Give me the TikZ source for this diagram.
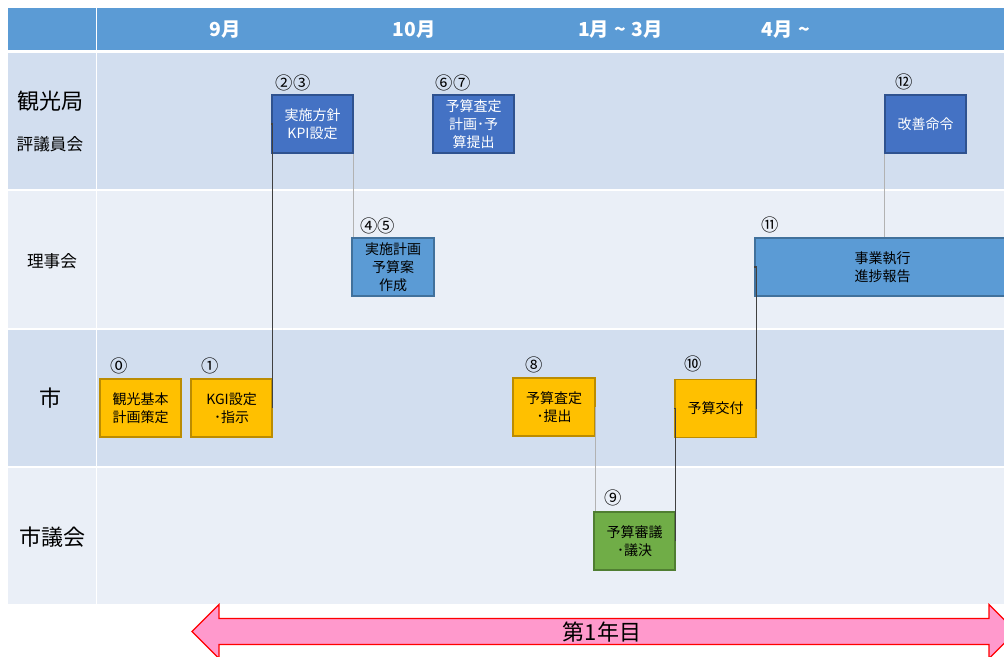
\documentclass[tikz,border=0pt]{standalone}
\usepackage{fontspec}
\setmainfont{Noto Sans CJK JP}
\definecolor{hdr}{HTML}{5B9BD5}
\definecolor{rowA}{HTML}{D2DEEF}
\definecolor{rowB}{HTML}{EAEFF7}
\definecolor{dblue}{HTML}{4472C4}
\definecolor{dblueb}{HTML}{2F528F}
\definecolor{lblue}{HTML}{5B9BD5}
\definecolor{lblueb}{HTML}{41719C}
\definecolor{yel}{HTML}{FFC000}
\definecolor{yelb}{HTML}{BC8C00}
\definecolor{grn}{HTML}{70AD47}
\definecolor{grnb}{HTML}{507E32}
\definecolor{pinkf}{HTML}{FF99CC}
\definecolor{arrowb}{HTML}{FF0000}
\begin{document}
\begin{tikzpicture}[x=0.75pt,y=-0.75pt,
 box/.style={rectangle, draw, line width=0.9pt, inner sep=0pt, minimum width=60.75pt, minimum height=43.5pt, align=center, font=\fontsize{10.5}{13.5}\selectfont},
 dbox/.style={box, fill=dblue, draw=dblueb, text=white},
 lbox/.style={box, fill=lblue, draw=lblueb, text=black},
 ybox/.style={box, fill=yel, draw=yelb, text=black},
 gbox/.style={box, fill=grn, draw=grnb, text=black},
 num/.style={font=\fontsize{13}{15}\selectfont, inner sep=0pt},
 hdrtext/.style={text=white, font=\fontsize{14.5}{16}\selectfont\bfseries, inner sep=0pt},
 big/.style={font=\fontsize{16.5}{19}\selectfont, inner sep=0pt},
 small/.style={font=\fontsize{12.5}{15}\selectfont, inner sep=0pt},
 dline/.style={draw=black!75, line width=1.2pt},
 lline/.style={draw=black!30, line width=0.7pt}
]
\useasboundingbox (0,0) rectangle (1004,657);
\clip (0,0) rectangle (1004,657);
% table
\fill[hdr] (8,8) rectangle (95.5,49.5);
\fill[hdr] (97,8) rectangle (1004,49.5);
\fill[rowA] (8,52.5) rectangle (95.5,189);
\fill[rowA] (97,52.5) rectangle (1004,189);
\fill[rowB] (8,190.5) rectangle (95.5,328);
\fill[rowB] (97,190.5) rectangle (1004,328);
\fill[rowA] (8,329.5) rectangle (95.5,466);
\fill[rowA] (97,329.5) rectangle (1004,466);
\fill[rowB] (8,467.5) rectangle (95.5,604);
\fill[rowB] (97,467.5) rectangle (1004,604);
% header
\node[hdrtext] (h1) at (225.5,30) {9月};
\node[hdrtext] (h2) at (414,30) {10月};
\node[hdrtext] (h3) at (620.5,30) {1月\hspace{4pt}{\Large\textasciitilde}\hspace{4pt}3月};
\node[hdrtext] (h4) at (786,30) {4月\hspace{4pt}{\Large\textasciitilde}};
% row labels
\node[big] (r1) at (50,101) {観光局};
\node[small] (r1b) at (50,144) {評議員会};
\node[small] (r2) at (52,261) {理事会};
\node[big] (r3) at (51,398) {市};
\node[big] (r4) at (52,537) {市議会};
% boxes
\node[dbox] (sisin) at (312.5,124) {実施方針\\KPI設定};
\node[dbox] (satei67) at (473.5,124) {予算査定\\計画･予\\算提出};
\node[dbox] (kaizen) at (925.5,124) {改善命令};
\node[lbox, minimum width=61.5pt] (keikaku) at (393,267) {実施計画\\予算案\\作成};
\node[lbox, minimum width=191.25pt] (jigyo) at (882.5,267) {事業執行\\進捗報告};
\node[ybox] (kanko) at (140.5,408) {観光基本\\計画策定};
\node[ybox] (kgi) at (231.5,408) {KGI設定\\･指示};
\node[ybox, minimum width=61.5pt] (satei8) at (554,407) {予算査定\\･提出};
\node[ybox] (kofu) at (715.5,408.5) {予算交付};
\node[gbox] (shingi) at (634.5,541) {予算審議\\･議決};
% numbers
\node[num] (n23) at (293,82.5) {②③};
\node[num] (n67) at (453,82.5) {⑥⑦};
\node[num] (n12) at (904,82) {⑫};
\node[num] (n45) at (377.5,226) {④⑤};
\node[num] (n11) at (770.5,224.5) {⑪};
\node[num] (n0) at (119,365.5) {⓪};
\node[num] (n1) at (210,365.5) {①};
\node[num] (n8) at (534.5,365) {⑧};
\node[num] (n10) at (693,364) {⑩};
\node[num] (n9) at (613,498) {⑨};
% connectors
\draw[dline] (kgi.east) |- (sisin.west);
\draw[lline] (sisin.south east) -- (sisin.south east |- keikaku.north);
\draw[lline] (kaizen.south west) -- (kaizen.south west |- jigyo.north);
\draw[lline] (satei8.east) -- (satei8.east |- shingi.north);
\draw[dline] (shingi.east) |- (kofu.west);
\draw[dline] (kofu.east) |- (jigyo.west);
% year arrow
\fill[pinkf, draw=arrowb, line width=0.9pt] (192,631.5) -- (219,604.5) -- (219,618.5) -- (989,618.5) -- (989,604.5) -- (1016,631.5) -- (989,658.5) -- (989,644.5) -- (219,644.5) -- (219,658.5) -- cycle;
\node[font=\fontsize{16.5}{19}\selectfont, inner sep=0pt] (year) at (602,632) {第1年目};
\end{tikzpicture}
\end{document}
